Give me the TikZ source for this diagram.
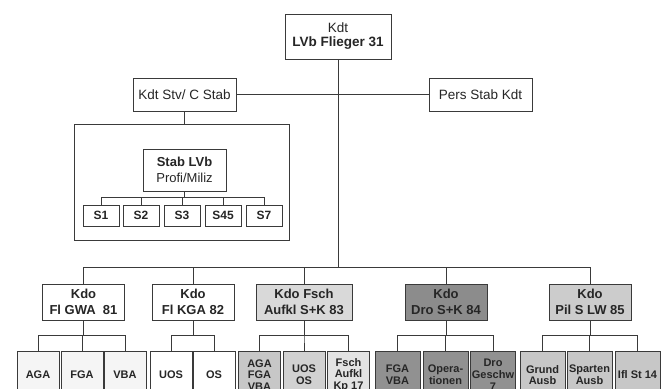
\documentclass[tikz,border=0pt]{standalone}
\usepackage{fontspec}
\setmainfont{Liberation Sans}
\definecolor{linegray}{HTML}{3A3A3A}

\begin{document}
\begin{tikzpicture}[x=1pt, y=-1pt, line width=1pt, draw=linegray,
	every node/.style={draw=linegray, align=center, inner sep=0pt, text=black!85},
	box/.style={fill=white, font=\fontsize{13.5}{14}\selectfont},
	sbox/.style={fill=white, minimum width=36pt, minimum height=21pt, font=\fontsize{12}{13}\selectfont\bfseries},
	kdo/.style={minimum width=82pt, minimum height=36pt, font=\fontsize{13}{16}\selectfont\bfseries},
	leaf/.style={minimum width=42pt, minimum height=48pt, font=\fontsize{11}{11.8}\selectfont\bfseries},
	wide/.style={minimum width=45pt}]
	\useasboundingbox (0,0) rectangle (671,388);
	% command level
	\node[box, minimum width=106pt, minimum height=45pt] (kdt) at (338,36.5) {Kdt\\\textbf{LVb Flieger 31}};
	\node[box, minimum width=103pt, minimum height=33pt] (stv) at (184.5,94.5) {Kdt Stv/ C Stab};
	\node[box, minimum width=103pt, minimum height=33pt] (pers) at (480.5,94.5) {Pers Stab Kdt};
	% staff
	\node[fill=white, minimum width=215pt, minimum height=116pt] (stabframe) at (181.5,182) {};
	\node[box, minimum width=83pt, minimum height=42pt, font=\fontsize{13}{16.5}\selectfont] (stab) at (184.5,170) {\textbf{Stab LVb}\\Profi/Miliz};
	\foreach \n/\x in {S1/101,S2/141,S3/182,S45/223,S7/264}
		\node[sbox] (\n) at (\x,215.5) {\n};
	% commands
	\node[kdo, fill=white] (k81) at (83.5,302) {Kdo\\Fl GWA\ \ 81};
	\node[kdo, fill=white] (k82) at (193,302) {Kdo\\Fl KGA 82};
	\node[kdo, fill=black!15, minimum width=96pt] (k83) at (304,302) {Kdo Fsch\\Aufkl S+K 83};
	\node[kdo, fill=black!45] (k84) at (446,302) {Kdo\\Dro S+K 84};
	\node[kdo, fill=black!20] (k85) at (590,302) {Kdo\\Pil S LW 85};
	% units
	\node[leaf, fill=black!4] (aga81) at (38,375) {AGA};
	\node[leaf, fill=black!4] (fga81) at (82,375) {FGA};
	\node[leaf, fill=black!4] (vba81) at (125,375) {VBA};
	\node[leaf, fill=white] (uos82) at (171,375) {UOS};
	\node[leaf, fill=white] (os82) at (214,375) {OS};
	\node[leaf, fill=black!22] (aga83) at (259.5,375) {AGA\\FGA\\VBA};
	\node[leaf, fill=black!18] (uos83) at (304,375) {UOS\\OS};
	\node[leaf, fill=black!11] (kp83) at (348.5,375) {Fsch\\Aufkl\\Kp 17};
	\node[leaf, wide, fill=black!43] (fga84) at (397.5,375) {FGA\\VBA};
	\node[leaf, wide, fill=black!43] (ops84) at (445.5,375) {Opera-\\tionen};
	\node[leaf, wide, fill=black!43] (geschw84) at (493,375) {Dro\\Geschw\\7};
	\node[leaf, wide, fill=black!22] (grund85) at (542.5,375) {Grund\\Ausb};
	\node[leaf, wide, fill=black!22] (sparten85) at (589.5,375) {Sparten\\Ausb};
	\node[leaf, wide, fill=black!22] (ifl85) at (637.5,375) {Ifl St 14};
	% connectors
	\coordinate (bus) at (0,267);
	\foreach \k in {k81,k82,k83,k84,k85}
		\draw (kdt.south) -- (kdt.south |- bus) -| (\k.north);
	\draw (stv) -- (pers);
	\draw (stv.south) -- (stv.south |- stabframe.north);
	\foreach \n in {S1,S2,S3,S45,S7}
		\draw (stab.south) -- ++(0,6) -| (\n.north);
	\foreach \k/\u in {k81/aga81,k81/fga81,k81/vba81,k82/uos82,k82/os82,k83/aga83,k83/uos83,k83/kp83,k84/fga84,k84/ops84,k84/geschw84,k85/grund85,k85/sparten85,k85/ifl85}
		\draw (\k.south) -- ++(0,15) -| (\u.north);
\end{tikzpicture}
\end{document}
